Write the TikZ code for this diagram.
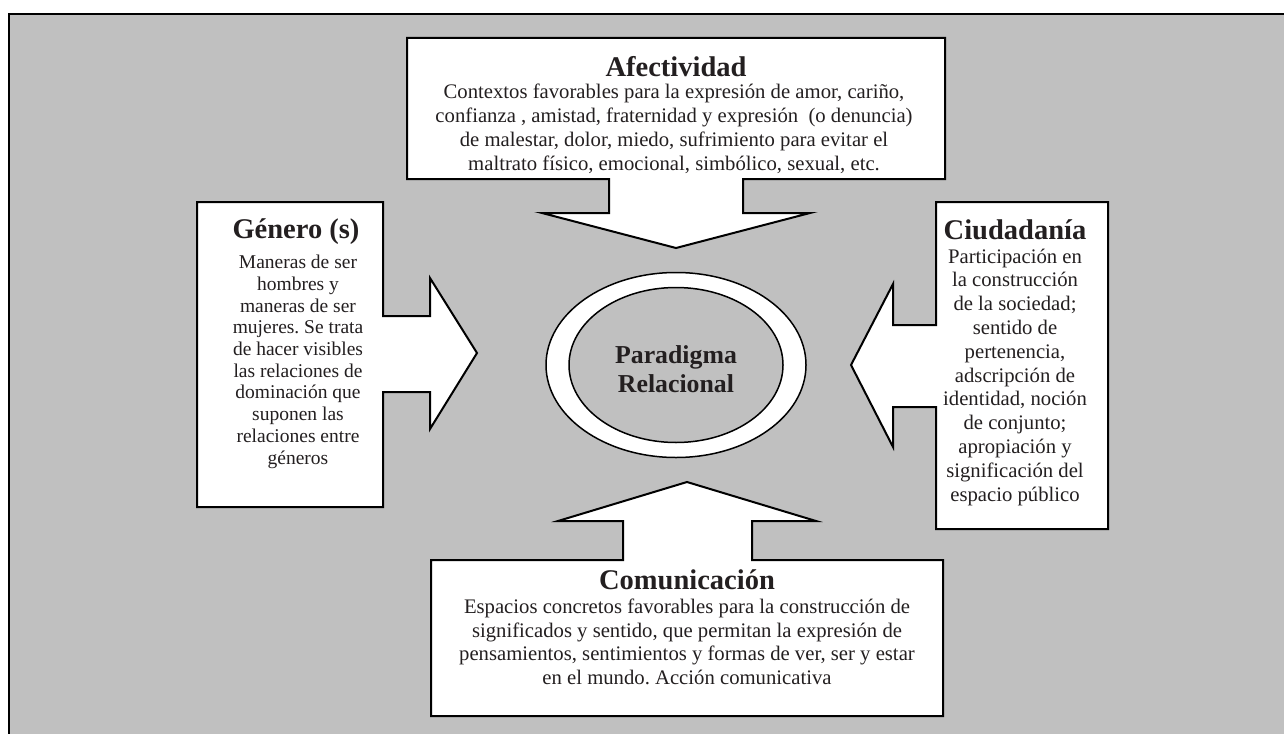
\documentclass[tikz,border=0pt]{standalone}
\usepackage{fontspec}
\setmainfont{Liberation Serif}
\frenchspacing
\definecolor{bg}{RGB}{192,192,192}
\definecolor{ink}{RGB}{35,31,32}
\begin{document}
\begin{tikzpicture}[x=1pt,y=-1pt,
  callout/.style={draw=black, fill=white, line width=2pt, line join=miter},
  ring/.style={draw=black, line width=1.5pt},
  ttl/.style={font=\bfseries\fontsize{28.5}{32}\selectfont, text=ink, inner sep=0pt, anchor=base},
  body/.style={font=\fontsize{20.7}{23.8}\selectfont, text=ink, align=center, inner sep=0pt, anchor=north},
  smallbody/.style={body, font=\fontsize{19.5}{21.7}\selectfont}]
\useasboundingbox (0,0) rectangle (1284,733);
\fill[white] (0,0) rectangle (1284,733);
\draw[fill=bg, line width=2.5pt] (9,14) rectangle (1300,750);

% Afectividad callout (arrow down)
\draw[callout] (407,38) -- (945,38) -- (945,179) -- (743,179) -- (743,213) -- (810,213)
  -- (676,248) -- (542,213) -- (609,213) -- (609,179) -- (407,179) -- cycle;
% Genero callout (arrow right)
\draw[callout] (197,202) -- (383,202) -- (383,316) -- (430,316) -- (430,278) -- (477,353)
  -- (430,429) -- (430,392) -- (383,392) -- (383,507) -- (197,507) -- cycle;
% Ciudadania callout (arrow left)
\draw[callout] (936,202) -- (1108,202) -- (1108,529) -- (936,529) -- (936,407) -- (893,407)
  -- (893,447) -- (851,365) -- (893,284) -- (893,325) -- (936,325) -- cycle;
% Comunicacion callout (arrow up)
\draw[callout] (431,560) -- (623,560) -- (623,521) -- (558,521) -- (687,482) -- (816,521)
  -- (752,521) -- (752,560) -- (943,560) -- (943,716) -- (431,716) -- cycle;

% central double ellipse
\draw[ring, fill=white] (676,365) ellipse [x radius=130, y radius=92.5];
\draw[ring, fill=bg] (676,365) ellipse [x radius=107, y radius=77.5];
\node[font=\bfseries\fontsize{25.8}{28.5}\selectfont, text=ink, align=center, inner sep=0pt] (core) at (676,369) {Paradigma\\Relacional};

% texts
\node[ttl] (afT) at (676,77) {Afectividad};
\node[body] (afB) at (674,84) {Contextos favorables para la expresión de amor, cariño,\\
confianza , amistad, fraternidad y expresión \ (o denuncia)\\
de malestar, dolor, miedo, sufrimiento para evitar el\\
maltrato físico, emocional, simbólico, sexual, etc.};

\node[ttl] (geT) at (296,238) {Género (s)};
\node[smallbody] (geB) at (298,255) {Maneras de ser\\ hombres y\\ maneras de ser\\ mujeres. Se trata\\ de hacer visibles\\ las relaciones de\\ dominación que\\ suponen las\\ relaciones entre\\ géneros};

\node[ttl] (ciT) at (1015,239) {Ciudadanía};
\node[body] (ciB) at (1015,248.5) {Participación en\\ la construcción\\ de la sociedad;\\ sentido de\\ pertenencia,\\ adscripción de\\ identidad, noción\\ de conjunto;\\ apropiación y\\ significación del\\ espacio público};

\node[ttl] (coT) at (687,589.5) {Comunicación};
\node[body] (coB) at (687,598.5) {Espacios concretos favorables para la construcción de\\
significados y sentido, que permitan la expresión de\\
pensamientos, sentimientos y formas de ver, ser y estar\\
en el mundo. Acción comunicativa};
\end{tikzpicture}
\end{document}
